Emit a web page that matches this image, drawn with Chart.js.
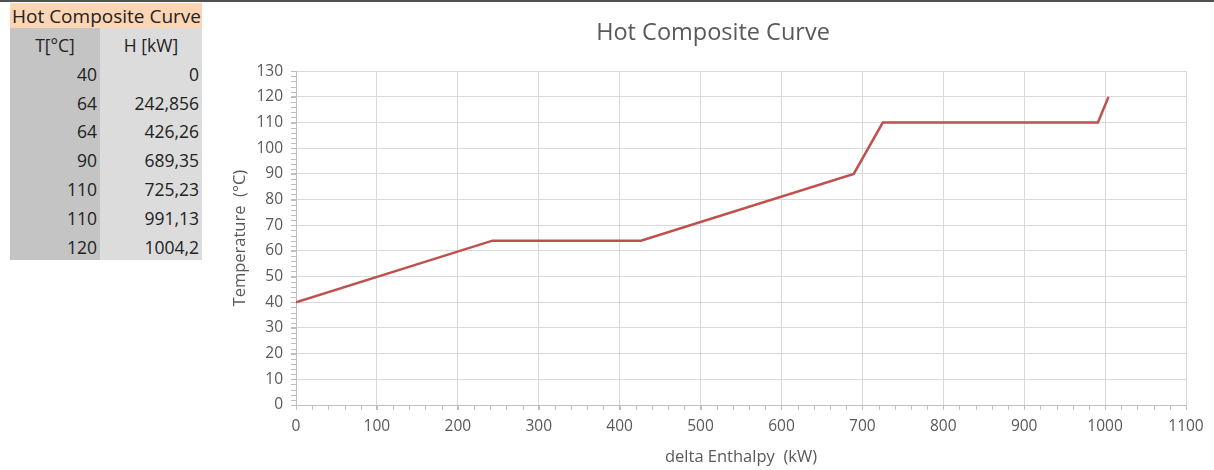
<!DOCTYPE html>
<html>
<head>
<meta charset="utf-8">
<script src="https://cdn.jsdelivr.net/npm/chart.js@4"></script>
<style>
  html, body { margin: 0; padding: 0; background: #fff; }
  body { width: 1214px; height: 470px; position: relative; overflow: hidden; font-family: "Open Sans", sans-serif; }
  .topbar { position: absolute; left: 0; top: 0; width: 1214px; height: 2px; background: #505050; }
  #tbl { position: absolute; left: 10px; top: 3px; border-collapse: collapse; font-size: 17.5px; color: #222; }
  #tbl td { padding: 0 3px 2px 3px; height: 26.8px; vertical-align: bottom; text-align: right; line-height: 22px; }
  #tbl td.t { width: 84px; background: #c4c4c4; }
  #tbl td.h { width: 96px; background: #dcdcdc; }
  #tbl tr.hd td { background: #fcd5b4; text-align: left; height: 24px; padding: 0 0 1px 2px; white-space: nowrap; font-size: 19px; }
  #tbl tr.cols td { text-align: center; height: 28px; }
  #wrap { position: absolute; left: 0; top: 0; width: 1214px; height: 470px; }
</style>
</head>
<body>
<div class="topbar"></div>
<table id="tbl"></table>
<div id="wrap"><canvas id="curve"></canvas></div>
<script>
// table data (as shown in the sheet)
const tableTitle = "Hot Composite Curve";
const tempCol = ["40", "64", "64", "90", "110", "110", "120"];
const enthCol = ["0", "242,856", "426,26", "689,35", "725,23", "991,13", "1004,2"];

// chart data
const enthalpy = [0, 242.856, 426.26, 689.35, 725.23, 991.13, 1004.2];
const temperature = [40, 64, 64, 90, 110, 110, 120];

// build the table
const tbl = document.getElementById("tbl");
let html = '<tr class="hd"><td colspan="2">' + tableTitle + '</td></tr>';
html += '<tr class="cols"><td class="t">T[°C]</td><td class="h">H [kW]</td></tr>';
for (let i = 0; i < tempCol.length; i++) {
  html += '<tr><td class="t">' + tempCol[i] + '</td><td class="h">' + enthCol[i] + '</td></tr>';
}
tbl.innerHTML = html;

const points = enthalpy.map((h, i) => ({ x: h, y: temperature[i] }));

const axisGrey = "#bfbfbf";
const textGrey = "#595959";

// small minor tick marks like Excel
const minorTicks = {
  id: "minorTicks",
  afterDraw(chart) {
    const ctx = chart.ctx;
    const xs = chart.scales.x, ys = chart.scales.y;
    ctx.save();
    ctx.strokeStyle = axisGrey;
    ctx.lineWidth = 1;
    ctx.beginPath();
    for (let v = 0; v <= 1100; v += 20) {
      const px = Math.round(xs.getPixelForValue(v)) + 0.5;
      ctx.moveTo(px, ys.bottom);
      ctx.lineTo(px, ys.bottom + 5);
    }
    for (let v = 0; v <= 130; v += 2) {
      const py = Math.round(ys.getPixelForValue(v)) + 0.5;
      ctx.moveTo(xs.left - 5, py);
      ctx.lineTo(xs.left, py);
    }
    ctx.stroke();
    ctx.restore();
  }
};

new Chart(document.getElementById("curve"), {
  type: "scatter",
  data: {
    datasets: [{
      label: "Hot Composite Curve",
      data: points,
      showLine: true,
      borderColor: "#c0504d",
      backgroundColor: "#c0504d",
      borderWidth: 2.5,
      pointRadius: 0,
      tension: 0,
    }],
  },
  options: {
    responsive: true,
    maintainAspectRatio: false,
    animation: false,
    layout: { padding: { left: 240, right: 28, top: 14, bottom: 3 } },
    plugins: {
      legend: { display: false },
      tooltip: { enabled: false },
      title: {
        display: true,
        text: "Hot Composite Curve",
        color: textGrey,
        font: { family: "Open Sans", size: 23.5, weight: "normal" },
        padding: { top: 5, bottom: 24 },
      },
    },
    scales: {
      x: {
        type: "linear",
        min: 0,
        max: 1100,
        ticks: {
          stepSize: 100, color: textGrey, font: { family: "Open Sans", size: 15.5 }, padding: 7, maxRotation: 0,
          callback: (v) => String(v),
        },
        grid: { color: "#d9d9d9", tickColor: axisGrey, tickLength: 5 },
        border: { color: axisGrey },
        title: { display: true, text: "delta Enthalpy  (kW)", color: textGrey, font: { family: "Open Sans", size: 16.5 }, padding: 0 },
        afterFit(scale) { scale.height = 62; },
      },
      y: {
        type: "linear",
        min: 0,
        max: 130,
        ticks: { stepSize: 10, color: textGrey, font: { family: "Open Sans", size: 15.5 }, padding: 8 },
        grid: { color: "#d9d9d9", tickColor: axisGrey, tickLength: 5 },
        border: { color: axisGrey },
        title: { display: true, text: "Temperature  (°C)", color: textGrey, font: { family: "Open Sans", size: 16.5 }, padding: { top: -10 } },
        afterFit(scale) { scale.width = 56; },
      },
    },
  },
  plugins: [minorTicks],
});
</script>
</body>
</html>
